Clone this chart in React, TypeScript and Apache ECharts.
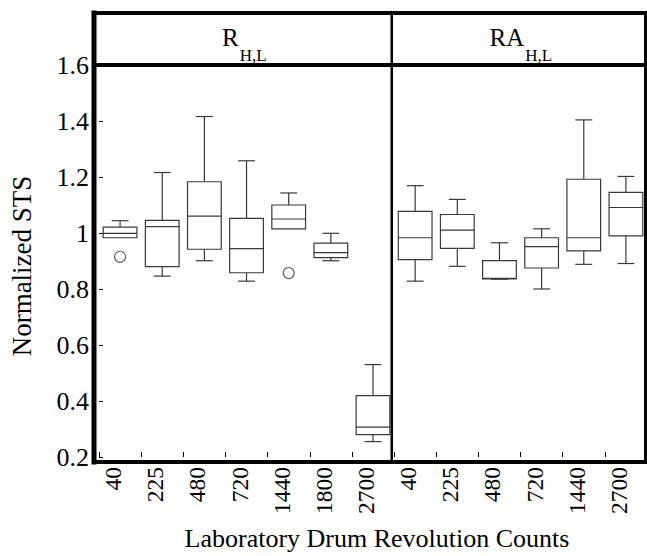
import { useEffect, useRef } from "react";
import * as echarts from "echarts";

// Drum revolution counts for the two panels (R_H,L then RA_H,L)
const rhlCounts = ["40", "225", "480", "720", "1440", "1800", "2700"];
const rahlCounts = ["40", "225", "480", "720", "1440", "2700"];
const categories = [...rhlCounts, ...rahlCounts];

// Five-number summaries: [min, q1, median, q3, max]
const rhlStats = [
  [0.983, 0.983, 0.999, 1.021, 1.044],
  [0.846, 0.88, 1.023, 1.045, 1.216],
  [0.901, 0.942, 1.06, 1.183, 1.416],
  [0.828, 0.858, 0.944, 1.052, 1.258],
  [1.015, 1.015, 1.05, 1.1, 1.143],
  [0.901, 0.912, 0.93, 0.964, 0.999],
  [0.255, 0.28, 0.307, 0.419, 0.53],
];
const rahlStats = [
  [0.828, 0.905, 0.983, 1.077, 1.169],
  [0.881, 0.945, 1.01, 1.066, 1.12],
  [0.835, 0.836, 0.838, 0.901, 0.965],
  [0.8, 0.875, 0.951, 0.983, 1.015],
  [0.888, 0.936, 0.983, 1.192, 1.404],
  [0.891, 0.99, 1.091, 1.145, 1.202],
];
// Outliers: [category index, value]
const outliers = [
  [0, 0.915],
  [4, 0.857],
];

const panelTitles = [
  { main: "R", sub: "H,L" },
  { main: "RA", sub: "H,L" },
];

const yAxisTitle = "Normalized STS";
const xAxisTitle = "Laboratory Drum Revolution Counts";

const W = 647;
const H = 556;
const PLOT_LEFT = 94;
const PLOT_RIGHT = 647;
const PLOT_TOP = 65;
const PLOT_BOTTOM = 462;
const HEADER_TOP = 13;
const FONT = "'Liberation Serif', 'DejaVu Serif', serif";
const INK = "#000";
const BOX_INK = "#3a3a3a";

function textWidth(text: string, size: number): number {
  const ctx = document.createElement("canvas").getContext("2d");
  if (!ctx) return text.length * size * 0.6;
  ctx.font = `${size}px ${FONT}`;
  return ctx.measureText(text).width;
}

export default function App() {
  const ref = useRef<HTMLDivElement>(null);

  useEffect(() => {
    if (!ref.current) return;
    const chart = echarts.init(ref.current, null, { renderer: "svg" });

    const boxData = [...rhlStats, ...rahlStats].map((s, i) => [i, ...s]);

    const dividerX =
      PLOT_LEFT + ((PLOT_RIGHT - PLOT_LEFT) * rhlCounts.length) / categories.length;
    const panelCenters = [(PLOT_LEFT + dividerX) / 2, (dividerX + PLOT_RIGHT) / 2];

    const MAIN_SIZE = 25;
    const SUB_SIZE = 17;
    const mainBaseline = 46;
    const subBaseline = 61;
    const headerTexts: any[] = [];
    panelTitles.forEach((t, i) => {
      const wm = textWidth(t.main, MAIN_SIZE);
      const ws = textWidth(t.sub, SUB_SIZE);
      const start = panelCenters[i] - (wm + ws) / 2 + 1;
      headerTexts.push({
        type: "text",
        z: 11,
        style: {
          text: t.main,
          x: start,
          y: mainBaseline - 0.3375 * MAIN_SIZE,
          fontSize: MAIN_SIZE,
          fontFamily: FONT,
          fill: INK,
          align: "left",
          verticalAlign: "middle",
        },
      });
      headerTexts.push({
        type: "text",
        z: 11,
        style: {
          text: t.sub,
          x: start + wm + 1,
          y: subBaseline - 0.3375 * SUB_SIZE,
          fontSize: SUB_SIZE,
          fontFamily: FONT,
          fill: INK,
          align: "left",
          verticalAlign: "middle",
        },
      });
    });

    const frameLine = (x1: number, y1: number, x2: number, y2: number, w: number) => ({
      type: "line",
      z: 10,
      shape: { x1, y1, x2, y2 },
      style: { stroke: INK, lineWidth: w, lineCap: "square" },
    });

    const option: any = {
      animation: false,
      backgroundColor: "#fff",
      textStyle: { fontFamily: FONT },
      grid: {
        left: PLOT_LEFT,
        right: W - PLOT_RIGHT,
        top: PLOT_TOP,
        bottom: H - PLOT_BOTTOM,
        containLabel: false,
      },
      xAxis: {
        type: "category",
        data: categories,
        boundaryGap: true,
        axisLine: { show: false },
        axisTick: {
          show: true,
          inside: true,
          length: 5,
          interval: 0,
          lineStyle: { color: INK, width: 1 },
        },
        axisLabel: {
          interval: 0,
          rotate: 90,
          margin: 10,
          fontSize: 23.5,
          fontFamily: FONT,
          color: INK,
          verticalAlign: "bottom",
          lineHeight: 14,
        },
        name: xAxisTitle,
        nameLocation: "middle",
        nameGap: 68,
        nameTextStyle: {
          fontSize: 26,
          fontFamily: FONT,
          color: INK,
          padding: [0, 0, 0, 8],
        },
        splitLine: { show: false },
      },
      yAxis: {
        type: "value",
        min: 0.2,
        max: 1.6,
        interval: 0.2,
        axisLine: { show: false },
        axisTick: {
          show: true,
          inside: true,
          length: 4,
          lineStyle: { color: INK, width: 1 },
        },
        axisLabel: {
          margin: 10,
          fontSize: 26,
          fontFamily: FONT,
          color: INK,
        },
        splitLine: { show: false },
        name: yAxisTitle,
        nameLocation: "middle",
        nameRotate: 90,
        nameGap: 64,
        nameTextStyle: {
          fontSize: 27,
          fontFamily: FONT,
          color: INK,
          padding: [0, 10, 0, 0],
        },
      },
      series: [
        {
          type: "custom",
          data: boxData,
          encode: { x: 0, y: [1, 2, 3, 4, 5] },
          renderItem: (params: any, api: any) => {
            const idx = api.value(0);
            const vMin = api.value(1);
            const vQ1 = api.value(2);
            const vMed = api.value(3);
            const vQ3 = api.value(4);
            const vMax = api.value(5);
            const [cx, yMin] = api.coord([idx, vMin]);
            const yQ1 = api.coord([idx, vQ1])[1];
            const yMed = api.coord([idx, vMed])[1];
            const yQ3 = api.coord([idx, vQ3])[1];
            const yMax = api.coord([idx, vMax])[1];
            const band = api.size([1, 0])[0];
            const boxW = band * 0.8;
            const capW = band * 0.4;
            const style = { stroke: BOX_INK, lineWidth: 1.2, fill: "none" };
            const children: any[] = [];
            if (vMax > vQ3) {
              children.push({ type: "line", shape: { x1: cx, y1: yMax, x2: cx, y2: yQ3 }, style });
              children.push({
                type: "line",
                shape: { x1: cx - capW / 2, y1: yMax, x2: cx + capW / 2, y2: yMax },
                style,
              });
            }
            if (vMin < vQ1) {
              children.push({ type: "line", shape: { x1: cx, y1: yQ1, x2: cx, y2: yMin }, style });
              children.push({
                type: "line",
                shape: { x1: cx - capW / 2, y1: yMin, x2: cx + capW / 2, y2: yMin },
                style,
              });
            }
            children.push({
              type: "rect",
              shape: { x: cx - boxW / 2, y: yQ3, width: boxW, height: yQ1 - yQ3 },
              style: { ...style, fill: "#fff" },
            });
            children.push({
              type: "line",
              shape: { x1: cx - boxW / 2, y1: yMed, x2: cx + boxW / 2, y2: yMed },
              style,
            });
            return { type: "group", children };
          },
        },
        {
          type: "scatter",
          data: outliers,
          symbol: "circle",
          symbolSize: 11,
          itemStyle: { color: "#fff", borderColor: BOX_INK, borderWidth: 1.2 },
        },
      ],
      graphic: [
        frameLine(PLOT_LEFT, HEADER_TOP, PLOT_RIGHT - 1.5, HEADER_TOP, 4),
        frameLine(PLOT_LEFT, PLOT_TOP, PLOT_RIGHT - 1.5, PLOT_TOP, 4),
        frameLine(PLOT_LEFT, PLOT_BOTTOM, PLOT_RIGHT - 1.5, PLOT_BOTTOM, 4),
        frameLine(PLOT_LEFT, HEADER_TOP, PLOT_LEFT, PLOT_BOTTOM, 5),
        frameLine(PLOT_RIGHT - 1.5, HEADER_TOP, PLOT_RIGHT - 1.5, PLOT_BOTTOM, 3),
        {
          type: "line",
          z: 10,
          shape: { x1: dividerX, y1: HEADER_TOP, x2: dividerX, y2: PLOT_BOTTOM },
          style: { stroke: INK, lineWidth: 2.5 },
        },
        ...headerTexts,
      ],
    };

    chart.setOption(option);
    return () => chart.dispose();
  }, []);

  return (
    <div
      ref={ref}
      style={{ position: "fixed", left: 0, top: 0, width: W, height: H, background: "#fff" }}
    />
  );
}
